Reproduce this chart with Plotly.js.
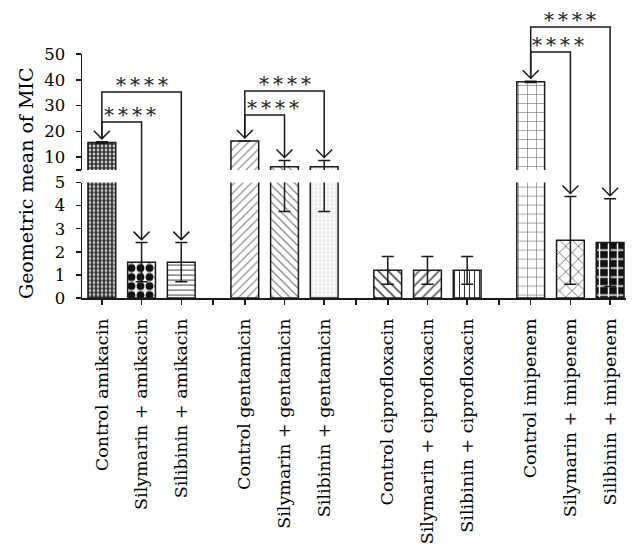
<!DOCTYPE html>
<html>
<head>
<meta charset="utf-8">
<script src="https://cdn.plot.ly/plotly-3.0.1.min.js"></script>
<style>html,body{margin:0;padding:0;background:#fff;}#chart{width:641px;height:551px;}</style>
</head>
<body>
<div id="chart"></div>
<script>
// ---- data ----
const categories = [
  'Control amikacin', 'Silymarin + amikacin', 'Silibinin + amikacin',
  'Control gentamicin', 'Silymarin + gentamicin', 'Silibinin + gentamicin',
  'Control ciprofloxacin', 'Silymarin + ciprofloxacin', 'Silibinin + ciprofloxacin',
  'Control imipenem', 'Silymarin + imipenem', 'Silibinin + imipenem'
];
const values = [15.6, 1.55, 1.55, 16.2, 6.2, 6.2, 1.2, 1.2, 1.2, 39.2, 2.5, 2.4];
const errors = [0.3, 0.85, 0.85, 0, 2.45, 2.45, 0.6, 0.6, 0.6, 0.25, 1.9, 1.9];
const starLabel = '*\u2009*\u2009*\u2009*';
// comparisons: control index -> treated index
const comparisons = [[0, 1], [0, 2], [3, 4], [3, 5], [9, 10], [9, 11]];

// ---- layout constants ----
const groupSize = 3, groupGap = 0.6;
const pos = categories.map((c, i) => i + Math.floor(i / groupSize) * groupGap);
const gapTicks = [];
for (let g = 1; g < categories.length / groupSize; g++) {
  gapTicks.push((pos[g * groupSize - 1] + pos[g * groupSize]) / 2);
}
const xr = [-0.5, 13.2];
const W = 641, H = 551;
const M = {l: 82, r: 15, t: 54, b: 253};
const PW = W - M.l - M.r, PH = H - M.t - M.b;
const lowDom = [0, 0.473], upDom = [0.525, 1];
const lowRange = [0, 5], upRange = [5, 50];

const patShapes = ['.', '.', '-', '/', '\\', '+', '\\', '/', '|', '+', 'x', '+'];
const patSizes  = [4, 9, 5, 6, 6, 4, 7, 7, 5, 9, 9, 9];
const patSolid  = [0.7, 0.6, 0.2, 0.18, 0.18, 0.15, 0.22, 0.22, 0.22, 0.14, 0.15, 0.3];
const patFg     = ['#333', '#111', '#444', '#777', '#666', '#aaa', '#333', '#444', '#333', '#777', '#444', '#fff'];
const patBg     = ['#fff', '#fff', '#fff', '#fff', '#fff', '#fff', '#fff', '#fff', '#fff', '#fff', '#fff', '#111'];

const FONT = 'DejaVu Serif, serif';
const LINE = '#1a1a1a';
const TXT = '#000';

function makeTrace(yaxis) {
  return {
    type: 'bar', x: pos, y: values, yaxis: yaxis, width: 0.7,
    marker: {
      color: '#fff',
      line: {color: LINE, width: 1.5},
      pattern: {shape: patShapes, size: patSizes, solidity: patSolid, fgcolor: patFg, bgcolor: patBg, fillmode: 'replace'}
    },
    error_y: {type: 'data', array: errors, visible: true, color: LINE, thickness: 1.5, width: 6},
    hoverinfo: 'skip', showlegend: false
  };
}

// conversions (value -> paper)
function xP(x) { return (x - xr[0]) / (xr[1] - xr[0]); }
function yP(v) {
  if (v <= lowRange[1]) return lowDom[0] + (v - lowRange[0]) / (lowRange[1] - lowRange[0]) * (lowDom[1] - lowDom[0]);
  return upDom[0] + (v - upRange[0]) / (upRange[1] - upRange[0]) * (upDom[1] - upDom[0]);
}
const pxX = 1 / PW, pxY = 1 / PH;
function pyFromTop(py) { return (M.t + PH - py) / PH; } // pixel row -> paper

// bracket levels (pixel rows), star shift
const bracketRows = [122, 92, 115, 91, 52, 27];
const starShift = [8, 0, 8, 0, 7, 0];

const shapes = [];
const annotations = [];
const line = {color: LINE, width: 1.5};
function arrow(i) {
  const tip = yP(values[i] + errors[i]) + 3 * pxY;
  const x = xP(pos[i]);
  shapes.push({type: 'path', xref: 'paper', yref: 'paper', line: line,
    path: `M${x - 8 * pxX},${tip + 8 * pxY} L${x},${tip} L${x + 8 * pxX},${tip + 8 * pxY}`});
  return tip;
}
const doneCtrl = {};
comparisons.forEach(([a, b], k) => {
  const lvl = pyFromTop(bracketRows[k]);
  const tipA = yP(values[a] + errors[a]) + 3 * pxY;
  const tipB = arrow(b);
  if (!doneCtrl[a]) { arrow(a); doneCtrl[a] = true; }
  const xa = xP(pos[a]), xb = xP(pos[b]);
  shapes.push({type: 'path', xref: 'paper', yref: 'paper', line: line,
    path: `M${xa},${tipA} L${xa},${lvl} L${xb},${lvl} L${xb},${tipB}`});
  annotations.push({xref: 'paper', yref: 'paper', x: (xa + xb) / 2 + starShift[k] * pxX, y: lvl - 7 * pxY,
    xanchor: 'center', yanchor: 'bottom', text: starLabel, showarrow: false,
    font: {family: FONT, size: 20, color: '#222'}});
});

annotations.push({xref: 'paper', yref: 'paper', x: (26 - M.l) / PW, y: 0.467, textangle: -90,
  text: 'Geometric mean of MIC', showarrow: false, xanchor: 'center', yanchor: 'middle',
  font: {family: FONT, size: 19, color: TXT}});

const tickvals = pos.concat(gapTicks);
const ticktext = categories.concat(gapTicks.map(() => ''));

const layout = {
  width: W, height: H, margin: M,
  paper_bgcolor: '#fff', plot_bgcolor: '#fff',
  font: {family: FONT, color: TXT},
  bargap: 0,
  xaxis: {range: xr, anchor: 'y', tickvals: tickvals, ticktext: ticktext, tickangle: -90,
    ticks: 'outside', ticklen: 5, tickwidth: 1.5, tickcolor: LINE, showline: true, linecolor: LINE, linewidth: 1.5,
    showgrid: false, zeroline: false, tickfont: {family: FONT, size: 17.5, color: TXT}, ticklabelstandoff: 7, automargin: false},
  yaxis: {domain: lowDom, range: lowRange, anchor: 'x', tickvals: [0, 1, 2, 3, 4, 5],
    ticks: 'outside', ticklen: 5, tickwidth: 1.5, tickcolor: LINE, showline: true, linecolor: LINE, linewidth: 1.5,
    showgrid: false, zeroline: false, tickfont: {family: FONT, size: 16.5, color: TXT}, ticklabelstandoff: 7, automargin: false},
  yaxis2: {domain: upDom, range: upRange, anchor: 'x', tickvals: [5, 10, 20, 30, 40, 50], ticktext: ['', '10', '20', '30', '40', '50'],
    ticks: 'outside', ticklen: 5, tickwidth: 1.5, tickcolor: LINE, showline: true, linecolor: LINE, linewidth: 1.5,
    showgrid: false, zeroline: false, tickfont: {family: FONT, size: 16.5, color: TXT}, ticklabelstandoff: 7, automargin: false},
  shapes: shapes,
  annotations: annotations
};

Plotly.newPlot('chart', [makeTrace('y'), makeTrace('y2')], layout, {staticPlot: true, displayModeBar: false});
</script>
</body>
</html>
